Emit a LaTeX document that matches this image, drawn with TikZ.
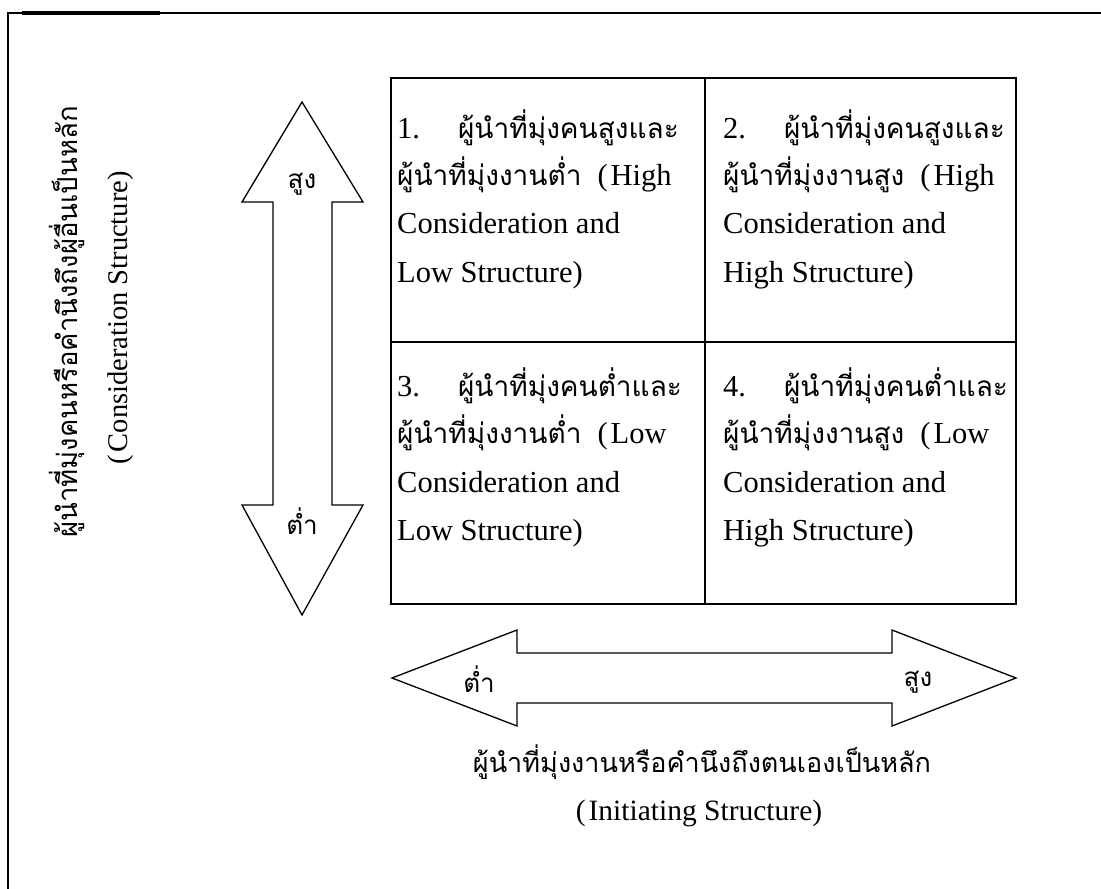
\documentclass[tikz,border=0pt]{standalone}
\usepackage{fontspec}
\setmainfont{Liberation Serif}
\newfontfamily\thai[Script=Thai]{Loma}
\newcommand{\thtxt}[1]{{\thai\fontsize{28}{34}\selectfont #1}}
\begin{document}
\begin{tikzpicture}[x=1pt,y=-1pt,
  txt/.style={anchor=base west,inner sep=0pt,font=\fontsize{30.5}{36}\selectfont},
  lbl/.style={inner sep=0pt,font=\thai\fontsize{26}{30}\selectfont},
  shp/.style={draw,line width=1.3pt,line join=miter},
  grid/.style={draw,line width=2pt}]
\useasboundingbox (0,0) rectangle (1101,889);
% frame
\draw[line width=2pt] (8,889) -- (8,12.5) -- (1101,12.5);
\draw[line width=3.4pt] (22,12.9) -- (160,12.9);
% grid
\draw[grid] (391,78) rectangle (1016,604);
\draw[grid] (705,78) -- (705,604);
\draw[grid] (391,342) -- (1016,342);
% vertical double arrow
\draw[shp] (302,102) -- (363,202) -- (332,202) -- (332,505) -- (363,505) -- (302,615)
  -- (242,505) -- (273,505) -- (273,202) -- (242,202) -- cycle;
\node[lbl] (vhigh) at (302,184) {สูง};
\node[lbl] (vlow) at (302,521) {ต่ำ};
% horizontal double arrow
\draw[shp] (392,678) -- (517,630) -- (517,653) -- (892,653) -- (892,630) -- (1016,678)
  -- (892,726) -- (892,703) -- (517,703) -- (517,726) -- cycle;
\node[lbl] (hlow) at (479,679) {ต่ำ};
\node[lbl] (hhigh) at (918,682) {สูง};
% cell 1
\node[txt] (c1a) at (397,138) {1.\hspace{38pt}\thtxt{ผู้นำที่มุ่งคนสูงและ}};
\node[txt] (c1b) at (397,185) {\thtxt{ผู้นำที่มุ่งงานต่ำ}\hspace{16pt}(\hspace{3pt}High};
\node[txt] (c1c) at (397,233) {Consideration and};
\node[txt] (c1d) at (397,282) {Low Structure)};
% cell 2
\node[txt] (c2a) at (723,138) {2.\hspace{38pt}\thtxt{ผู้นำที่มุ่งคนสูงและ}};
\node[txt] (c2b) at (723,185) {\thtxt{ผู้นำที่มุ่งงานสูง}\hspace{16pt}(\hspace{3pt}High};
\node[txt] (c2c) at (723,233) {Consideration and};
\node[txt] (c2d) at (723,282) {High Structure)};
% cell 3
\node[txt] (c3a) at (397,396) {3.\hspace{38pt}\thtxt{ผู้นำที่มุ่งคนต่ำและ}};
\node[txt] (c3b) at (397,443) {\thtxt{ผู้นำที่มุ่งงานต่ำ}\hspace{16pt}(\hspace{3pt}Low};
\node[txt] (c3c) at (397,492) {Consideration and};
\node[txt] (c3d) at (397,540) {Low Structure)};
% cell 4
\node[txt] (c4a) at (723,396) {4.\hspace{38pt}\thtxt{ผู้นำที่มุ่งคนต่ำและ}};
\node[txt] (c4b) at (723,443) {\thtxt{ผู้นำที่มุ่งงานสูง}\hspace{16pt}(\hspace{3pt}Low};
\node[txt] (c4c) at (723,492) {Consideration and};
\node[txt] (c4d) at (723,540) {High Structure)};
% bottom axis title
\node[txt,anchor=base,font=\thai\fontsize{27}{32}\selectfont] (bt1) at (702,772) {ผู้นำที่มุ่งงานหรือคำนึงถึงตนเองเป็นหลัก};
\node[txt,anchor=base,font=\fontsize{29.5}{36}\selectfont] (bt2) at (699,820) {(\hspace{3pt}Initiating Structure)};
% left axis title
\node[inner sep=0pt,rotate=90,font=\thai\fontsize{27.5}{32}\selectfont] (lt1) at (67,322) {ผู้นำที่มุ่งคนหรือคำนึงถึงผู้อื่นเป็นหลัก};
\node[inner sep=0pt,rotate=90,font=\fontsize{28.5}{34}\selectfont] (lt2) at (121,318) {(\hspace{3pt}Consideration Structure)};
\end{tikzpicture}
\end{document}
